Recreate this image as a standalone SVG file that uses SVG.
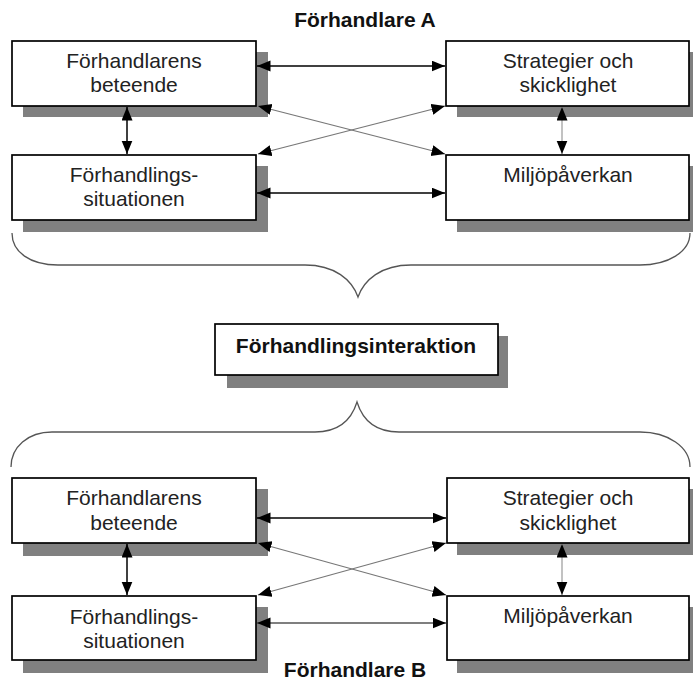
<svg xmlns="http://www.w3.org/2000/svg" width="693" height="682" viewBox="0 0 693 682">
  <style>
    .box { fill: #ffffff; stroke: #000000; stroke-width: 1.7; }
    .shadow { fill: #808080; stroke: none; }
    .lbl { font-family: "Liberation Sans", Arial, sans-serif; font-size: 21px; fill: #222222; text-anchor: middle; }
    .bold { font-family: "Liberation Sans", Arial, sans-serif; font-size: 21px; font-weight: bold; fill: #111111; text-anchor: middle; }
    .link { stroke: #000000; stroke-width: 1.5; fill: none; marker-start: url(#head); marker-end: url(#head); }
    .thin { stroke: #777777; stroke-width: 1.2; fill: none; marker-start: url(#head); marker-end: url(#head); }
    .brace { stroke: #555555; stroke-width: 1.3; fill: none; }
  </style>
  <defs>
    <marker id="head" markerUnits="userSpaceOnUse" markerWidth="15" markerHeight="12" refX="13.5" refY="5.5" orient="auto-start-reverse">
      <path d="M0,0 L13.5,5.5 L0,11 z" fill="#000000"/>
    </marker>
  </defs>

  <!-- headings -->
  <text class="bold" x="365" y="27">Förhandlare A</text>
  <text class="bold" x="355" y="677">Förhandlare B</text>

  <!-- negotiator A -->
  <g id="a-beteende">
    <rect class="shadow" x="23" y="52" width="245" height="65"/>
    <rect class="box" x="12" y="41" width="244" height="65"/>
    <text class="lbl" x="134" y="68">Förhandlarens</text>
    <text class="lbl" x="134" y="92">beteende</text>
  </g>
  <g id="a-situation">
    <rect class="shadow" x="23" y="166" width="245" height="66"/>
    <rect class="box" x="12" y="155" width="244" height="65"/>
    <text class="lbl" x="134" y="182">Förhandlings-</text>
    <text class="lbl" x="134" y="206">situationen</text>
  </g>
  <g id="a-strategi">
    <rect class="shadow" x="457" y="52" width="245" height="65"/>
    <rect class="box" x="446" y="41" width="243" height="65"/>
    <text class="lbl" x="568" y="68">Strategier och</text>
    <text class="lbl" x="568" y="92">skicklighet</text>
  </g>
  <g id="a-miljo">
    <rect class="shadow" x="457" y="166" width="245" height="66"/>
    <rect class="box" x="446" y="155" width="243" height="65"/>
    <text class="lbl" x="568" y="182">Miljöpåverkan</text>
  </g>

  <!-- interaction -->
  <g id="interaktion">
    <rect class="shadow" x="227" y="336" width="281" height="52"/>
    <rect class="box" x="215" y="324" width="283" height="51"/>
    <text class="bold" x="356" y="353">Förhandlingsinteraktion</text>
  </g>

  <!-- negotiator B -->
  <g id="b-beteende">
    <rect class="shadow" x="23" y="489" width="245" height="67"/>
    <rect class="box" x="12" y="478" width="244" height="65"/>
    <text class="lbl" x="134" y="505">Förhandlarens</text>
    <text class="lbl" x="134" y="530">beteende</text>
  </g>
  <g id="b-situation">
    <rect class="shadow" x="23" y="607" width="245" height="66"/>
    <rect class="box" x="12" y="596" width="244" height="64"/>
    <text class="lbl" x="134" y="624">Förhandlings-</text>
    <text class="lbl" x="134" y="648">situationen</text>
  </g>
  <g id="b-strategi">
    <rect class="shadow" x="457" y="489" width="245" height="66"/>
    <rect class="box" x="447" y="478" width="242" height="65"/>
    <text class="lbl" x="568" y="505">Strategier och</text>
    <text class="lbl" x="568" y="530">skicklighet</text>
  </g>
  <g id="b-miljo">
    <rect class="shadow" x="457" y="607" width="245" height="66"/>
    <rect class="box" x="447" y="596" width="242" height="64"/>
    <text class="lbl" x="568" y="623">Miljöpåverkan</text>
  </g>

  <!-- connectors -->
  <g id="connectors">
    <!-- A -->
    <line class="link" x1="257" y1="66" x2="445" y2="66"/>
    <line class="link" x1="257" y1="193" x2="445" y2="193"/>
    <line class="link" x1="127" y1="107" x2="127" y2="154"/>
    <line class="thin" x1="562" y1="107" x2="562" y2="154" style="stroke:#999999"/>
    <line class="thin" x1="258" y1="106" x2="445" y2="154"/>
    <line class="thin" x1="258" y1="154" x2="445" y2="106"/>
    <!-- B -->
    <line class="link" x1="257" y1="518" x2="446" y2="518"/>
    <line class="link" x1="257" y1="623" x2="446" y2="623" style="stroke:#555555"/>
    <line class="link" x1="127" y1="544" x2="127" y2="595"/>
    <line class="thin" x1="562" y1="544" x2="562" y2="595" style="stroke:#999999"/>
    <line class="thin" x1="258" y1="543" x2="446" y2="595"/>
    <line class="thin" x1="258" y1="595" x2="446" y2="543"/>
    <!-- braces -->
    <path class="brace" d="M12,233 C12,252 30,265 58,265 L305,265 C335,265 352,280 358,297 C364,280 381,265 411,265 L640,265 C668,265 690,252 690,233"/>
    <path class="brace" d="M11,467 C11,447 28,432 52,432 L315,432 C340,432 352,418 357,402 C362,418 374,432 399,432 L640,432 C668,432 690,447 690,467"/>
  </g>
</svg>
